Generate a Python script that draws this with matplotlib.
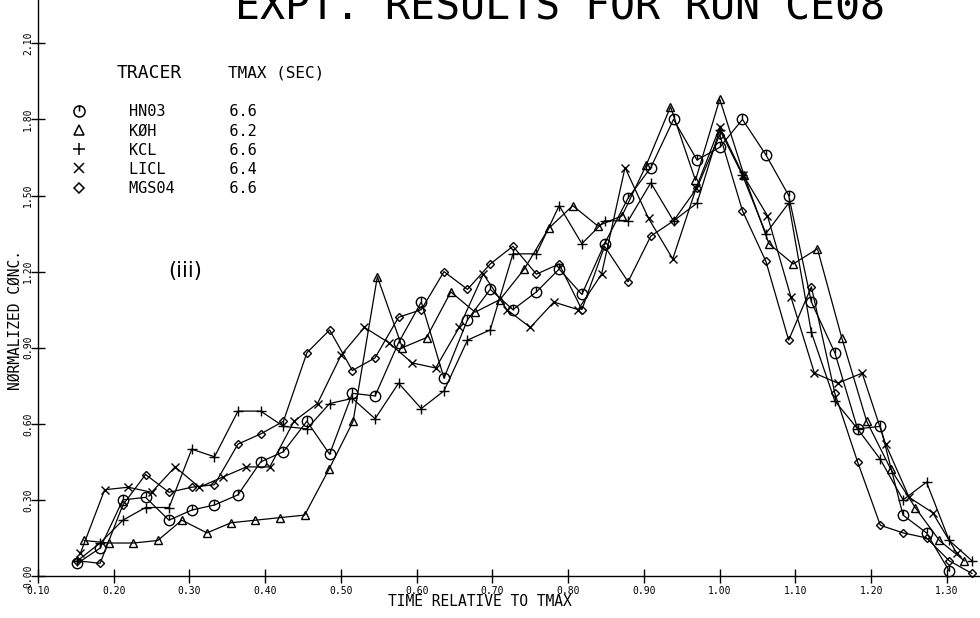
import matplotlib
matplotlib.use("Agg")
import matplotlib.pyplot as plt
from matplotlib.path import Path
from matplotlib.lines import Line2D

# Thoi gian tuong doi (t / TMAX) cho tung chat danh dau
x_66 = [0.152, 0.182, 0.212, 0.242, 0.273, 0.303, 0.333, 0.364, 0.394, 0.424,
        0.455, 0.485, 0.515, 0.545, 0.576, 0.606, 0.636, 0.667, 0.697, 0.727,
        0.758, 0.788, 0.818, 0.848, 0.879, 0.909, 0.939, 0.970, 1.000, 1.030,
        1.061, 1.091, 1.121, 1.152, 1.182, 1.212, 1.242, 1.273, 1.303, 1.333]
x_62 = [0.161, 0.194, 0.226, 0.258, 0.290, 0.323, 0.355, 0.387, 0.419, 0.452,
        0.484, 0.516, 0.548, 0.581, 0.613, 0.645, 0.677, 0.710, 0.742, 0.774,
        0.806, 0.839, 0.871, 0.903, 0.935, 0.968, 1.000, 1.032, 1.065, 1.097,
        1.129, 1.161, 1.194, 1.226, 1.258, 1.290, 1.323]
x_64 = [0.156, 0.188, 0.219, 0.250, 0.281, 0.313, 0.344, 0.375, 0.406, 0.438,
        0.469, 0.500, 0.531, 0.563, 0.594, 0.625, 0.656, 0.688, 0.719, 0.750,
        0.781, 0.813, 0.844, 0.875, 0.906, 0.938, 0.969, 1.000, 1.031, 1.063,
        1.094, 1.125, 1.156, 1.188, 1.219, 1.250, 1.281, 1.313]

# Nong do chuan hoa
hno3 = [0.05, 0.11, 0.30, 0.31, 0.22, 0.26, 0.28, 0.32, 0.45, 0.49,
        0.61, 0.48, 0.72, 0.71, 0.92, 1.08, 0.78, 1.01, 1.13, 1.05,
        1.12, 1.21, 1.11, 1.31, 1.49, 1.61, 1.80, 1.64, 1.69, 1.80,
        1.66, 1.50, 1.08, 0.88, 0.58, 0.59, 0.24, 0.17, 0.02]
koh = [0.14, 0.13, 0.13, 0.14, 0.22, 0.17, 0.21, 0.22, 0.23, 0.24,
       0.42, 0.61, 1.18, 0.90, 0.94, 1.12, 1.04, 1.09, 1.21, 1.37,
       1.46, 1.38, 1.42, 1.62, 1.85, 1.56, 1.88, 1.58, 1.31, 1.23,
       1.29, 0.94, 0.61, 0.42, 0.27, 0.14, 0.06]
kcl = [0.06, 0.13, 0.22, 0.27, 0.27, 0.50, 0.47, 0.65, 0.65, 0.59,
       0.58, 0.68, 0.70, 0.62, 0.76, 0.66, 0.73, 0.93, 0.97, 1.27,
       1.27, 1.46, 1.31, 1.40, 1.40, 1.55, 1.40, 1.47, 1.76, 1.58,
       1.35, 1.47, 0.96, 0.69, 0.58, 0.46, 0.30, 0.37, 0.14, 0.06]
licl = [0.09, 0.34, 0.35, 0.33, 0.43, 0.35, 0.39, 0.43, 0.43, 0.61,
        0.68, 0.87, 0.98, 0.92, 0.84, 0.82, 0.98, 1.19, 1.05, 0.98,
        1.08, 1.05, 1.19, 1.61, 1.41, 1.25, 1.53, 1.77, 1.58, 1.42,
        1.10, 0.80, 0.76, 0.80, 0.52, 0.31, 0.25, 0.09]
mgso4 = [0.06, 0.05, 0.28, 0.40, 0.33, 0.35, 0.36, 0.52, 0.56, 0.61,
         0.88, 0.97, 0.81, 0.86, 1.02, 1.05, 1.20, 1.13, 1.23, 1.30,
         1.19, 1.23, 1.05, 1.30, 1.16, 1.34, 1.40, 1.53, 1.74, 1.44,
         1.24, 0.93, 1.14, 0.72, 0.45, 0.20, 0.17, 0.15, 0.06, 0.01]

tracers = ['HN03', 'KØH', 'KCL', 'LICL', 'MGS04']
tmax = ['6.6', '6.2', '6.6', '6.4', '6.6']
xticks = [0.10, 0.20, 0.30, 0.40, 0.50, 0.60, 0.70, 0.80, 0.90, 1.00, 1.10, 1.20, 1.30]
yticks = [0.00, 0.30, 0.60, 0.90, 1.20, 1.50, 1.80, 2.10]

# marker hinh tron co gach dung (kieu may ve)
circ_bar = Path.make_compound_path(
    Path.unit_circle(),
    Path([(0, 1), (0, 0)], [Path.MOVETO, Path.LINETO]))

series = [
    (x_66[:len(hno3)], hno3, circ_bar, 7.5),
    (x_62, koh, '^', 6),
    (x_66, kcl, '+', 7.5),
    (x_64, licl, 'x', 6),
    (x_66, mgso4, 'D', 4.5),
]

mono = 'DejaVu Sans Mono'
fig = plt.figure(figsize=(9.8, 6.18), dpi=100)
ax = fig.add_axes([38 / 980, 42 / 618, 942 / 980, 576 / 618])

handles = []
for xs, ys, mk, ms in series:
    ax.plot(xs, ys, color='black', lw=0.9, marker=mk, ms=ms,
            mfc='none', mec='black', mew=1.0, clip_on=False)
    handles.append(Line2D([], [], ls='none', marker=mk, ms=ms + 0.5,
                          mfc='none', mec='black', mew=1.1))

ax.set_xlim(0.10, 1.3436)
ax.set_ylim(0, 2.2707)
ax.set_xticks(xticks)
ax.set_yticks(yticks)
ax.set_xticklabels([f'{v:.2f}' for v in xticks], family=mono, fontsize=7)
ax.set_yticklabels([f'{v:.2f}' for v in yticks], family=mono, fontsize=7,
                   rotation=90, va='center')
ax.tick_params(direction='inout', length=10, width=1.0)
ax.tick_params(axis='x', pad=2)
ax.tick_params(axis='y', pad=-1.5)
for s in ['top', 'right']:
    ax.spines[s].set_visible(False)
for s in ['left', 'bottom']:
    ax.spines[s].set_linewidth(1.0)

labels = [f'{n:<11}{t}' for n, t in zip(tracers, tmax)]
ax.legend(handles, labels, loc='upper left', frameon=False,
          bbox_to_anchor=((71 - 38) / 942, (576 - 104) / 576),
          prop={'family': mono, 'size': 11}, handlelength=1.0,
          handletextpad=2.8, labelspacing=0.28, borderpad=0, borderaxespad=0)

ax.text((117 - 38) / 942, (576 - 73) / 576, 'TRACER', transform=ax.transAxes,
        family=mono, fontsize=13, va='center', ha='left')
ax.text((228 - 38) / 942, (576 - 73) / 576, 'TMAX (SEC)', transform=ax.transAxes,
        family=mono, fontsize=11.5, va='center', ha='left')
ax.text((185 - 38) / 942, (576 - 271) / 576, '(iii)', transform=ax.transAxes,
        fontsize=15, va='center', ha='center')

fig.text(560 / 980, 1 - 20 / 618, 'EXPT. RESULTS FOR RUN CE08', family=mono,
         fontsize=30, ha='center', va='baseline')
fig.text(15 / 980, 1 - 320 / 618, 'NØRMALIZED CØNC.', family=mono, fontsize=10.5,
         rotation=90, ha='center', va='center')
fig.text(480 / 980, 1 - 602 / 618, 'TIME RELATIVE TO TMAX', family=mono,
         fontsize=10.5, ha='center', va='center')

fig.savefig('out.png', dpi=100)
